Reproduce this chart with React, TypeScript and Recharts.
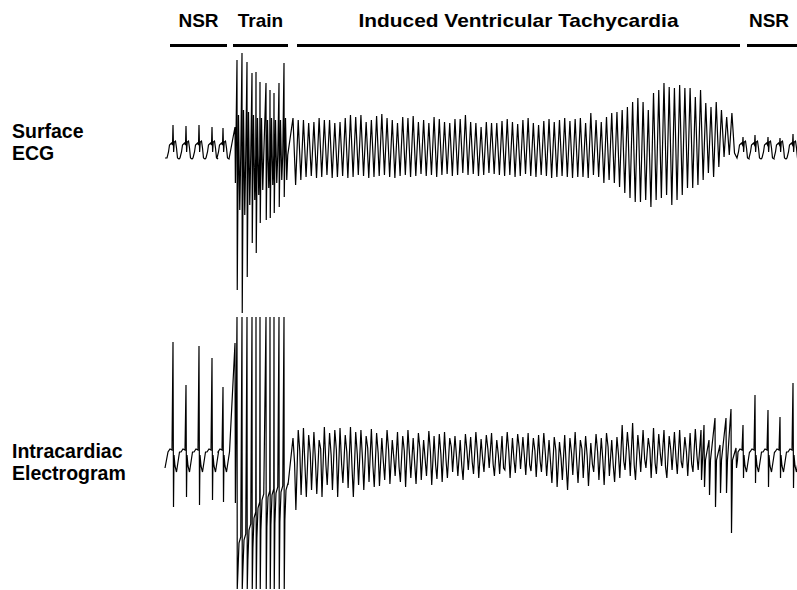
import React from 'react';
import { LineChart, Line, XAxis, YAxis } from 'recharts';

// Time in ms, amplitude in µV
const T_MIN = -1320;
const T_MAX = 5056;
const ECG_DOMAIN = [-4400, 1500];
const EGM_DOMAIN = [-1350, 4550];

const phaseNames = ['NSR', 'Train', 'Induced Ventricular Tachycardia', 'NSR'];
const phaseStart = [40, 544, 1056, 4656];
const phaseEnd = [496, 984, 4600, 5056];
const traceNames = [['Surface', 'ECG'], ['Intracardiac', 'Electrogram']];

// sinus beats (R-wave times)
const nsrPreTimes = [64, 168, 272, 376, 464];
const nsrPostTimes = [4624, 4720, 4824, 4920, 5024];
const ecgRPre = [250, 240, 250, 230, 220];
const ecgRPost = [130, 150, 130, 120, 160];
const egmTopPre = [1130, 700, 1090, 970, 680];
const egmBottomPre = [-520, -420, -500, -450, -470];
const egmTopPost = [300, 600, 450, 380, 720];
const egmBottomPost = [-230, -280, -320, -230, -330];

// sinus beat wave shape around R
const ecgWaveBeforeDt = [-48, -36, -28, -12, -4];
const ecgWaveBeforeV = [-80, -20, 50, 70, 50];
const ecgWaveAfterDt = [5, 10, 20, 28, 36, 48];
const ecgWaveAfterV = [-20, 80, 90, 20, -80, -90];
const egmWaveBeforeDt = [-40, -24, -8];
const egmWaveBeforeV = [30, 60, 50];
const egmWaveAfterDt = [8, 16, 28, 40, 52];
const egmWaveAfterV = [0, -110, -170, -70, 30];

// pacing train
const preTrainTime = 560;
const preTrainEcg = [230, -330];
const preTrainEgm = [1120, -480];
const stimTimes = [576, 616, 656, 696, 728, 760, 808, 840, 872, 912, 952];
const ecgStimTop = [900, 970, 880, 770, 780, 680, 670, 600, 570, 670, 870];
const ecgStimBottom = [-1400, -1630, -1270, -930, -1030, -730, -700, -680, -630, -570, -470];
const ecgRespHigh = [350, 400, 380, 350, 320, 320, 300, 320, 300, 300, 320];
const ecgRespLow = [-600, -650, -550, -500, -450, -400, -380, -350, -330, -300, -300];
const egmStimTop = [1380, 1380, 1380, 1380, 1380, 1380, 1380, 1380, 1380, 1380, 1380];
const egmStimBottom = [-1340, -1340, -1340, -1340, -1340, -1340, -1340, -1340, -1340, -1340, -1340];
const egmStimLevel = [-880, -850, -750, -630, -530, -450, -420, -400, -380, -370, -350];

// ventricular tachycardia
const vtStart = 1024;
const vtCycle = 41.8;
const ecgVtTop = [
  320, 300, 300, 270, 280, 320, 300, 300, 270, 280, 320, 350, 330, 350, 280, 300, 340, 360, 320, 300,
  270, 330, 320, 340, 280, 300, 270, 330, 310, 280, 270, 310, 310, 350, 280, 270, 230, 280, 270, 270,
  290, 310, 280, 260, 300, 320, 270, 250, 290, 310, 280, 300, 320, 290, 310,
  320, 270, 370, 300, 280, 330, 370, 380, 400, 430, 480, 520, 480, 400, 570, 600, 670, 630, 620, 650,
  620, 620, 530, 600, 470, 430, 480, 400, 330, 370,
];
const ecgVtBottom = [
  -350, -300, -270, -260, -280, -270, -250, -280, -270, -260, -280, -270, -250, -260, -280, -270, -260, -250, -270, -280,
  -260, -250, -270, -260, -240, -260, -250, -270, -250, -240, -260, -250, -230, -250, -240, -260, -250, -230, -240, -250,
  -260, -250, -270, -260, -240, -260, -270, -250, -260, -280, -270, -260, -270, -280, -270,
  -270, -280, -250, -270, -330, -300, -330, -370, -430, -480, -520, -520, -500, -570, -500, -480, -450, -550, -500, -450,
  -380, -380, -350, -300, -230, -270, -170, -70, -50, -30,
];
const egmVtTop = [
  170, 250, 270, 200, 230, 150,
  280, 220, 250, 270, 200, 280, 230, 250, 190, 260,
  220, 170, 250, 150, 230, 190, 250, 170, 220, 150, 240, 190, 210,
  230, 170, 190, 150, 210, 180, 230, 160, 200, 220, 150, 190, 230, 170, 210, 180, 220, 170, 200,
  220, 150, 180, 130, 200, 170, 230, 150, 190, 120, 210, 170, 220, 150, 180,
  300, 230, 320, 200, 250, 170, 270, 210, 250, 190, 230, 250, 180, 220, 260,
];
const egmVtMid = [
  -80, 40, -120, 20, -60, 60, -100, 0, 50, -90, 30, -130, 10, -40, 70, -110,
  20, -70, 50, -30, -120, 40, 0, -90, 60, -50, 30, -100, 10, -60, 80, -20, -110, 40, -70, 20,
  -40, 60, -90, 0, -130, 30, -50, 70, -20, -100, 40, -60, 10, -80, 50, -30, -120, 20, -70, 60,
  -10, -90, 30, -50, 80, -110, 0, -60, 40, -100, 20, -40, 60, -80, 10, -120, 50, -30, -70, 30, -90, 0,
];
const egmVtBottom = [
  -550, -400, -420, -350, -390, -420,
  -300, -350, -420, -280, -330, -420, -300, -350, -270, -320,
  -310, -250, -290, -210, -270, -320, -230, -290, -250, -210, -300, -240, -270,
  -230, -170, -210, -250, -150, -190, -230, -170, -130, -210, -190, -150, -230, -180, -140, -200, -160, -220, -170,
  -210, -280, -320, -250, -350, -200, -280, -230, -310, -170, -250, -300, -210, -270, -230,
  -150, -210, -250, -170, -130, -230, -190, -110, -230, -150, -190, -130, -210, -170, -150,
];
const egmEndTimes = [4288, 4312, 4352, 4400, 4440, 4488, 4528, 4568];
const egmEndTop = [250, 300, 150, 370, 100, 370, 460, 70];
const egmEndBottom = [-250, -320, -400, -520, -380, -380, -780, -130];

type Pt = { t: number; v: number };

function ecgBeats(times: number[], rTops: number[], out: Pt[]) {
  times.forEach((t0, k) => {
    ecgWaveBeforeDt.forEach((dt, j) => out.push({ t: t0 + dt, v: ecgWaveBeforeV[j] }));
    out.push({ t: t0, v: rTops[k] });
    ecgWaveAfterDt.forEach((dt, j) => out.push({ t: t0 + dt, v: ecgWaveAfterV[j] }));
  });
}
function egmBeats(times: number[], tops: number[], bottoms: number[], out: Pt[]) {
  times.forEach((t0, k) => {
    egmWaveBeforeDt.forEach((dt, j) => out.push({ t: t0 + dt, v: egmWaveBeforeV[j] }));
    out.push({ t: t0, v: tops[k] });
    out.push({ t: t0 + 4, v: bottoms[k] });
    egmWaveAfterDt.forEach((dt, j) => out.push({ t: t0 + dt, v: egmWaveAfterV[j] }));
  });
}

function buildEcg(): Pt[] {
  const out: Pt[] = [{ t: 0, v: -80 }];
  ecgBeats(nsrPreTimes, ecgRPre, out);
  out.push({ t: preTrainTime, v: preTrainEcg[0] });
  out.push({ t: preTrainTime + 3, v: preTrainEcg[1] });
  stimTimes.forEach((ts, k) => {
    out.push({ t: ts, v: ecgStimTop[k] });
    out.push({ t: ts + 2, v: ecgStimBottom[k] });
    out.push({ t: ts + 12, v: ecgRespHigh[k] });
    out.push({ t: ts + 22, v: ecgRespLow[k] });
    out.push({ t: ts + 30, v: -50 });
  });
  ecgVtTop.forEach((top, i) => {
    const tc = vtStart + i * vtCycle;
    out.push({ t: tc, v: top });
    out.push({ t: tc + vtCycle / 2, v: ecgVtBottom[i] });
  });
  ecgBeats(nsrPostTimes, ecgRPost, out);
  return out;
}

function buildEgm(): Pt[] {
  const out: Pt[] = [{ t: 0, v: -130 }];
  egmBeats(nsrPreTimes, egmTopPre, egmBottomPre, out);
  out.push({ t: preTrainTime, v: preTrainEgm[0] });
  out.push({ t: preTrainTime + 3, v: preTrainEgm[1] });
  stimTimes.forEach((ts, k) => {
    const lvl = egmStimLevel[k];
    out.push({ t: ts, v: egmStimTop[k] });
    out.push({ t: ts + 2, v: egmStimBottom[k] });
    out.push({ t: ts + 7, v: lvl - 300 });
    out.push({ t: ts + 16, v: lvl });
    out.push({ t: ts + 30, v: lvl + 60 });
  });
  out.push({ t: 984, v: -300 });
  egmVtTop.forEach((top, i) => {
    const tc = vtStart + i * vtCycle;
    out.push({ t: tc, v: top });
    out.push({ t: tc + vtCycle * 0.3, v: egmVtMid[i] });
    out.push({ t: tc + vtCycle * 0.55, v: egmVtBottom[i] });
  });
  egmEndTimes.forEach((t0, k) => {
    out.push({ t: t0, v: egmEndTop[k] });
    out.push({ t: t0 + 4, v: egmEndBottom[k] });
    out.push({ t: t0 + 12, v: -50 });
  });
  egmBeats(nsrPostTimes, egmTopPost, egmBottomPost, out);
  return out;
}

const W = 797;
const H = 590;
const tx = (t: number) => ((t - T_MIN) / (T_MAX - T_MIN)) * W;
const FONT = '"Liberation Sans", Arial, Helvetica, sans-serif';

export default function App() {
  const ecg = buildEcg();
  const egm = buildEgm();
  return (
    <div style={{ position: 'absolute', left: 0, top: 0, width: W, height: H, background: '#fff' }}>
      <LineChart width={W} height={H} margin={{ top: 0, right: 0, bottom: 0, left: 0 }}>
        <XAxis type="number" dataKey="t" domain={[T_MIN, T_MAX]} hide allowDataOverflow />
        <YAxis yAxisId="ecg" type="number" domain={ECG_DOMAIN} hide allowDataOverflow />
        <YAxis yAxisId="egm" type="number" domain={EGM_DOMAIN} hide allowDataOverflow />
        <Line yAxisId="ecg" data={ecg} dataKey="v" type="linear" stroke="#000" strokeWidth={1.2} dot={false} activeDot={false} isAnimationActive={false} />
        <Line yAxisId="egm" data={egm} dataKey="v" type="linear" stroke="#000" strokeWidth={1.2} dot={false} activeDot={false} isAnimationActive={false} />
      </LineChart>
      <svg width={W} height={H} style={{ position: 'absolute', left: 0, top: 0, pointerEvents: 'none' }}>
        {phaseNames.map((name, i) => {
          const x1 = tx(phaseStart[i]);
          const x2 = tx(phaseEnd[i]);
          return (
            <g key={i}>
              <rect x={x1} y={44} width={x2 - x1} height={3} fill="#000" />
              <text
                x={i === 3 ? 769 : (x1 + x2) / 2}
                y={27}
                textAnchor="middle"
                fontFamily={FONT}
                fontWeight="bold"
                fontSize={19}
                fill="#000"
                {...(i === 2 ? { textLength: 320, lengthAdjust: 'spacingAndGlyphs' } : {})}
              >
                {name}
              </text>
            </g>
          );
        })}
        {traceNames.map((lines, i) => (
          <text key={i} fontFamily={FONT} fontWeight="bold" fontSize={19.5} fill="#000">
            {lines.map((ln, j) => (
              <tspan key={j} x={12} y={(i === 0 ? 138 : 458) + j * 22}>
                {ln}
              </tspan>
            ))}
          </text>
        ))}
      </svg>
    </div>
  );
}
